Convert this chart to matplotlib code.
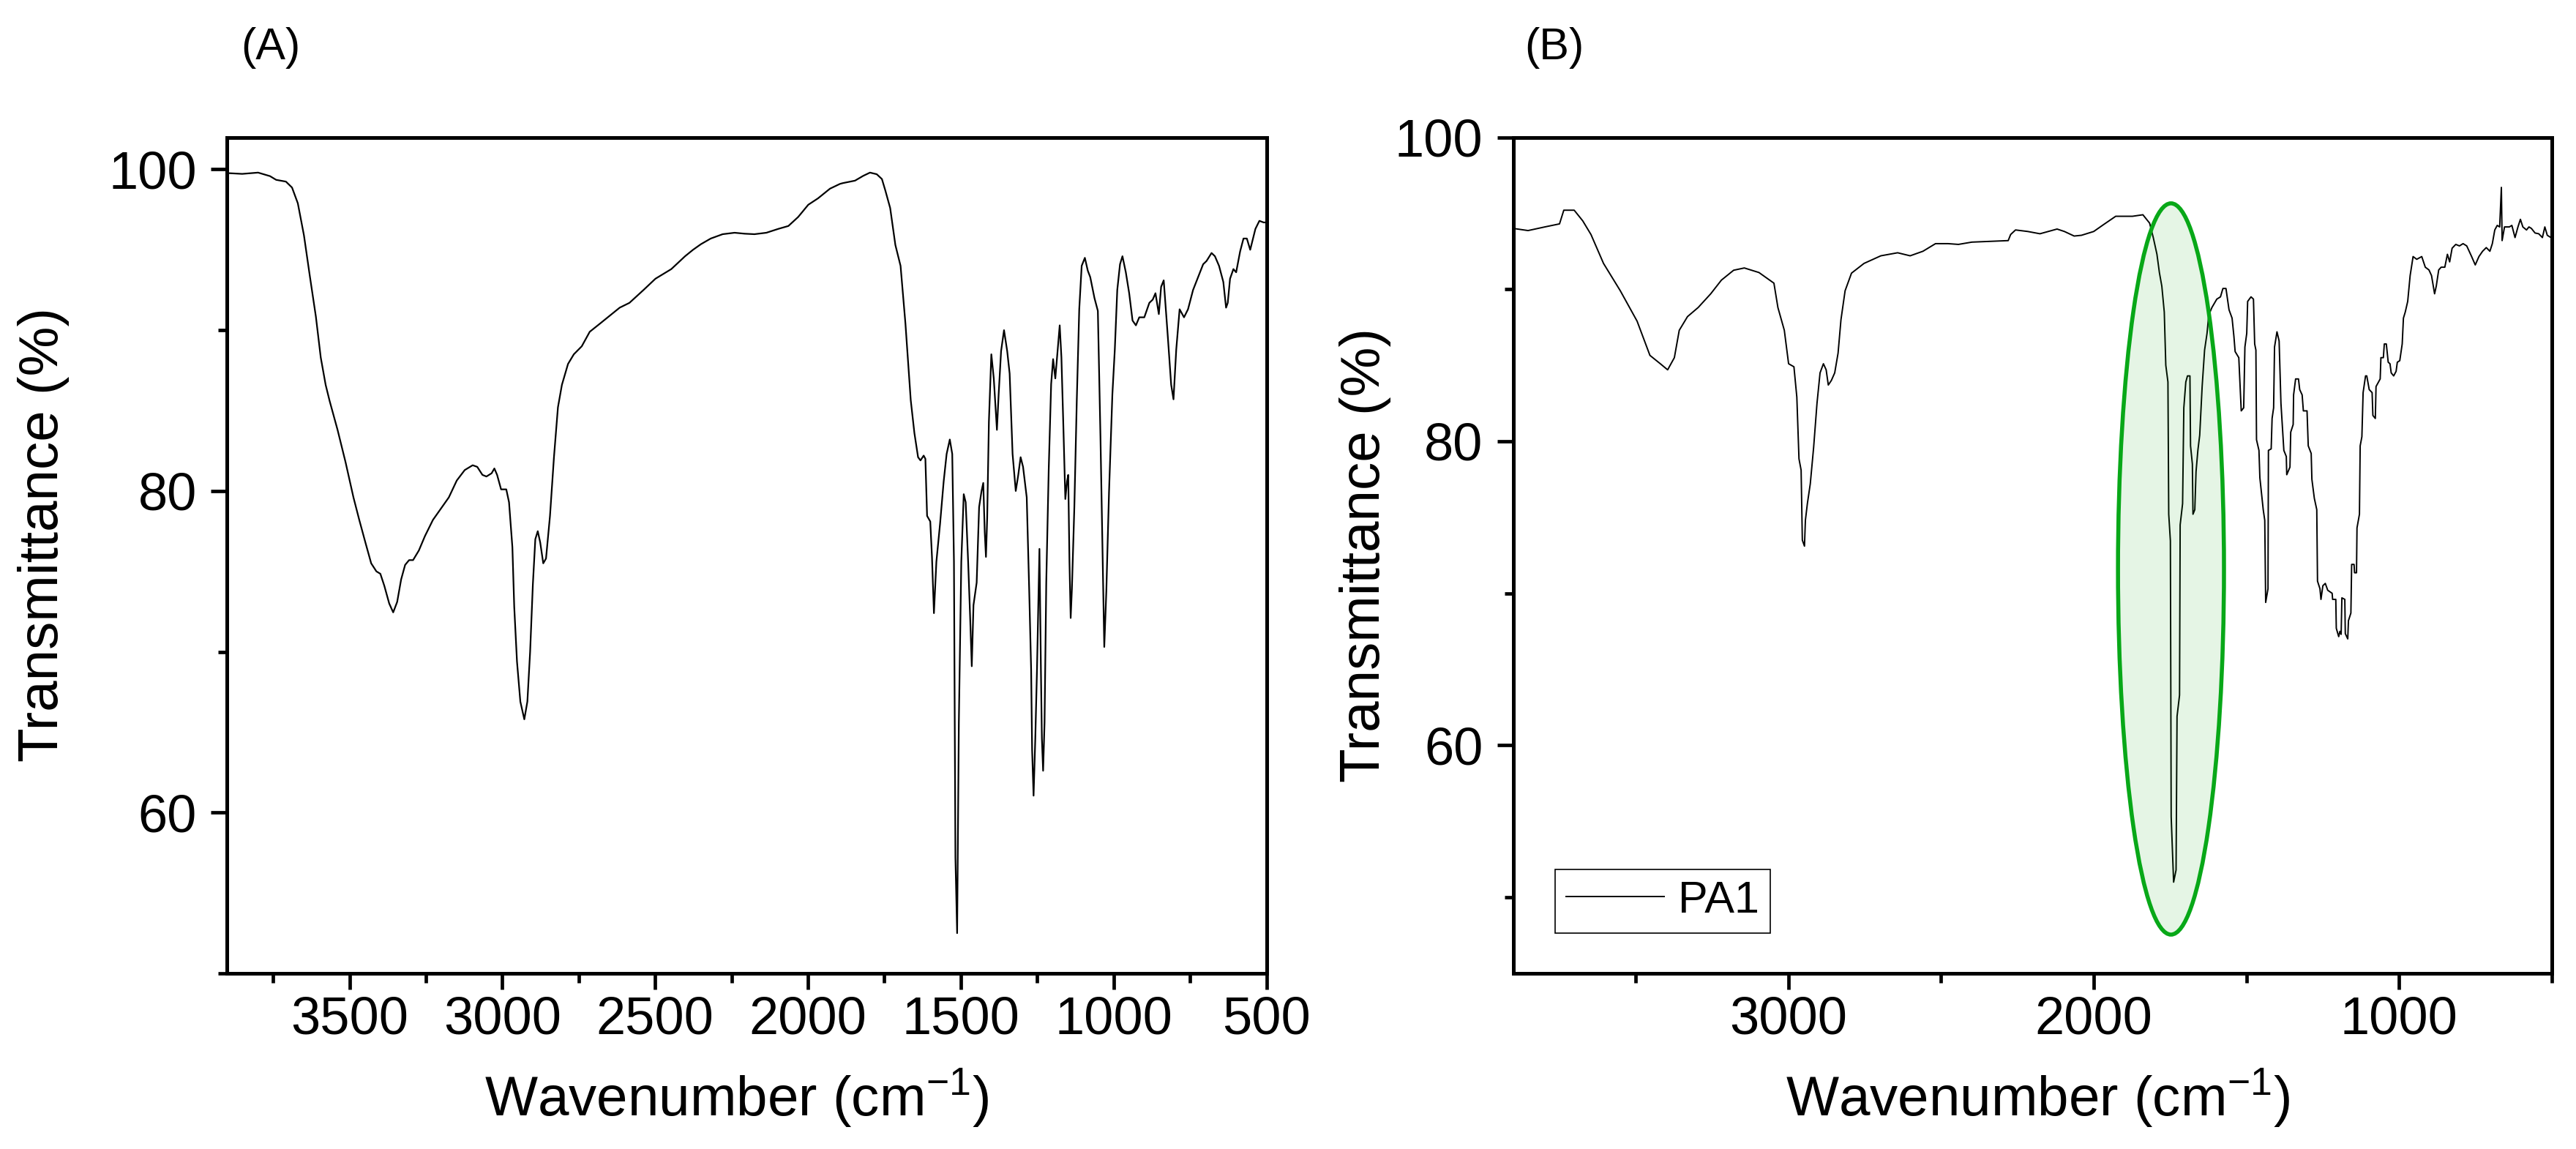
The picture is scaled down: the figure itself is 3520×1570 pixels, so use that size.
import matplotlib
matplotlib.use("Agg")
import matplotlib.pyplot as plt
from matplotlib.patches import Ellipse
from matplotlib.ticker import MultipleLocator

plt.rcParams['font.family'] = ['Liberation Sans', 'DejaVu Sans']
plt.rcParams['mathtext.fontset'] = 'custom'
plt.rcParams['mathtext.rm'] = 'Liberation Sans'
plt.rcParams['mathtext.it'] = 'Liberation Sans:italic'
plt.rcParams['mathtext.bf'] = 'Liberation Sans:bold'

# ---------------- Panel A spectrum ----------------
wn_a = [3900, 3851, 3799, 3760, 3740, 3708, 3688, 3669, 3649, 3630, 3610, 3594, 3578, 3565,
        3539, 3513, 3487, 3468, 3448, 3429, 3412, 3399, 3386, 3370, 3357, 3344, 3331, 3318,
        3305, 3292, 3273, 3253, 3227, 3201, 3175, 3149, 3123, 3097, 3082, 3065, 3052, 3035,
        3026, 3017, 3004, 2987, 2978, 2967, 2961, 2952, 2941, 2928, 2918, 2909, 2900, 2892,
        2884, 2876, 2866, 2857, 2844, 2831, 2818, 2805, 2785, 2766, 2740, 2714, 2681, 2642,
        2616, 2584, 2538, 2499, 2447, 2402, 2376, 2350, 2318, 2279, 2240, 2207, 2175, 2136,
        2097, 2064, 2032, 1999, 1967, 1928, 1895, 1885, 1846, 1819, 1797, 1775, 1758, 1747,
        1731, 1714, 1697, 1681,
        1663.7, 1651.7, 1639.7, 1631.8, 1621.4, 1615.8, 1610.2, 1599.8, 1594.2, 1587.8,
        1579.8, 1567.8, 1555.9, 1546.3, 1535.9, 1527.9, 1522.3, 1517.5, 1511.9, 1506.3,
        1498.3, 1490.3, 1483.9, 1475.9, 1469.6, 1464.0, 1458.4, 1448.0, 1440.0, 1432.0,
        1426.4, 1421.6, 1417.6, 1413.6, 1408.0, 1400.0, 1392.0, 1381.7, 1376.1, 1368.1,
        1358.5, 1348.1, 1340.1, 1330.5, 1320.1, 1312.1, 1304.2, 1296.2, 1284.2, 1276.2,
        1269.8, 1266.6, 1261.8, 1256.2, 1250.6, 1242.6, 1237.8, 1234.6, 1230.6, 1225.9,
        1220.3, 1212.3, 1204.3, 1197.9, 1190.7, 1181.9, 1176.3, 1170.7, 1164.3, 1157.9,
        1152.3, 1148.4, 1144.4, 1140.4, 1136.4, 1128.4, 1120.4, 1112.4, 1104.4, 1094.0,
        1084.4, 1076.4,
        1062.6, 1051.5, 1043, 1037, 1030.5, 1023.7, 1015, 1004, 996, 988, 979, 971, 960, 949,
        938, 927, 916, 899.5, 883, 872, 863, 852, 844.5, 836, 822.6, 811.6, 804, 795, 784,
        769.6, 756.5, 740, 723.6, 707, 696, 679.5, 668.5, 655, 641, 632, 626.5, 619, 608,
        599, 586, 575, 564, 553, 536, 523, 509, 500]
t_a = [99.77, 99.72, 99.8, 99.58, 99.35, 99.24, 98.87, 97.89, 95.9, 93.4, 90.85, 88.3, 86.6, 85.6,
       83.8, 81.8, 79.6, 78.2, 76.8, 75.5, 75.0, 74.85, 74.1, 73.0, 72.45, 73.1, 74.5, 75.4,
       75.7, 75.7, 76.3, 77.2, 78.2, 78.9, 79.6, 80.65, 81.3, 81.6, 81.5, 81.0, 80.9, 81.1,
       81.4, 81.0, 80.1, 80.1, 79.3, 76.5, 72.8, 69.4, 66.9, 65.8, 66.9, 70.0, 74.2, 77.0,
       77.5, 76.8, 75.5, 75.8, 78.45, 82.1, 85.2, 86.6, 87.9, 88.5, 89.0, 89.9, 90.4, 91.0,
       91.4, 91.7, 92.5, 93.2, 93.8, 94.6, 95.0, 95.35, 95.7, 95.97, 96.06, 96.0, 95.97, 96.06,
       96.3, 96.48, 97.04, 97.8, 98.2, 98.8, 99.1, 99.15, 99.3, 99.6, 99.8, 99.7, 99.4, 98.7,
       97.6, 95.3, 94.0, 90.4,
       85.65, 83.6, 82.1, 81.9, 82.2, 82.0, 78.45, 78.1, 75.9, 72.4,
       75.6, 77.95, 80.6, 82.3, 83.2, 82.3, 75.6, 57.2, 52.5, 65.6,
       75.6, 79.8, 79.3, 75.6, 72.3, 69.1, 72.9, 74.3, 79.0, 80.0,
       80.5, 77.45, 75.9, 78.3, 84.3, 88.5, 87.0, 83.8, 86.0, 88.7,
       90.0, 88.7, 87.3, 82.3, 80.0, 80.97, 82.1, 81.5, 79.6, 73.9,
       68.9, 63.9, 61.05, 64.6, 68.9, 76.4, 68.9, 64.6, 62.6, 65.6,
       74.3, 81.3, 86.65, 88.2, 87.0, 89.0, 90.3, 88.3, 84.0, 79.5,
       80.6, 81.0, 75.6, 72.1, 73.9, 79.0, 85.65, 91.3, 94.0, 94.5,
       93.7, 93.3,
       92.0, 91.2, 83.4, 77.0, 70.3, 73.8, 79.9, 86.0, 88.8, 92.5, 94.1, 94.6, 93.6, 92.3,
       90.6, 90.3, 90.8, 90.8, 91.7, 91.9, 92.3, 91.0, 92.7, 93.1, 89.6, 86.6, 85.7, 88.8, 91.3,
       90.8, 91.3, 92.5, 93.3, 94.1, 94.3, 94.8, 94.6, 94.0, 93.0, 91.4, 91.7, 93.2, 93.8,
       93.6, 94.9, 95.7, 95.7, 95.0, 96.3, 96.8, 96.7, 96.7]

# ---------------- Panel B spectrum (PA1) ----------------
wn_b = [3900, 3852, 3797, 3749, 3735, 3701, 3673, 3646, 3605, 3550, 3495, 3453, 3419, 3395,
        3373, 3357, 3330, 3295, 3254, 3219, 3179, 3144, 3096, 3047, 3034, 3013, 2999, 2981.5,
        2972, 2965, 2958, 2954, 2947, 2944, 2937.5, 2928, 2917, 2906, 2896, 2885, 2876, 2869,
        2859, 2848, 2837, 2827.5, 2814, 2793, 2752, 2697, 2642, 2601, 2559, 2518, 2477, 2443,
        2399, 2280, 2272, 2256, 2216, 2176, 2120, 2096, 2064, 2040, 2000, 1968, 1928, 1873,
        1839, 1817, 1805, 1793, 1785, 1777, 1769, 1764, 1757, 1754.4, 1749, 1746.4, 1738.4,
        1730.4, 1727.2, 1719, 1717, 1709, 1705, 1698.5, 1693, 1685, 1683, 1677, 1675, 1669,
        1665, 1659, 1653, 1645, 1637, 1629, 1623.4, 1613, 1597, 1585, 1577, 1567, 1557, 1547,
        1541, 1537, 1525, 1517, 1509, 1505, 1499, 1496, 1485, 1477, 1473, 1469, 1467, 1459,
        1456, 1445, 1440, 1437, 1429.4, 1428, 1419, 1416, 1411, 1408, 1400, 1393, 1387,
        1377.5, 1369.5, 1368, 1357.5, 1355, 1347, 1345.6, 1339, 1329.6, 1325.6, 1317.6,
        1313.6, 1301.6, 1297.6, 1288, 1285.7, 1277.7, 1269.7, 1267.3, 1259.3, 1256, 1249.7,
        1241.8, 1233.8, 1219.4, 1217.8, 1207.4, 1205.8, 1197.9, 1193.9, 1189.9, 1187.5,
        1177.9, 1176.3, 1168.3, 1166, 1158, 1155.5, 1147.6, 1146, 1139.6, 1138, 1130, 1127.6,
        1122, 1118, 1110, 1106, 1098, 1088.5, 1086, 1078, 1075.7, 1067.7, 1062.1, 1059.7,
        1051.7, 1048.6, 1042, 1035.8, 1030, 1026, 1018, 1010, 1006, 998, 990, 986, 980, 972,
        964, 954.4, 942.4, 926, 914.4, 902.4, 894, 884, 878.5, 870.5, 862.5, 850.5, 842,
        834.6, 826.6, 814.6, 802.6, 790.7, 778.7, 762.7, 750.8, 738.8, 726.8, 714.8, 702.9,
        694.9, 686.9, 678.9, 670.9, 665.3, 662.9, 655, 639, 631, 620.6, 611, 603, 595, 583,
        575, 567, 555, 543, 531, 523, 515, 503]
t_b = [94.0, 93.86, 94.1, 94.3, 95.2, 95.2, 94.5, 93.6, 91.7, 89.9, 87.9, 85.65, 85.1, 84.7,
       85.5, 87.3, 88.2, 88.8, 89.7, 90.6, 91.25, 91.4, 91.1, 90.4, 88.8, 87.3, 85.1, 84.9,
       82.9, 78.85, 78.1, 73.5, 73.1, 74.8, 75.9, 77.2, 79.6, 82.5, 84.5, 85.1, 84.7, 83.7,
       84.0, 84.5, 85.8, 88.0, 89.9, 91.06, 91.7, 92.2, 92.4, 92.2, 92.5, 93.0, 93.0, 92.95,
       93.1, 93.2, 93.6, 93.9, 93.8, 93.65, 93.96, 93.8, 93.5, 93.55, 93.8, 94.25, 94.8, 94.8,
       94.9, 94.35, 93.4, 92.3, 91.1, 90.2, 88.5, 85.0, 83.9, 75.2, 73.45, 55.3, 51.0,
       51.8, 61.9, 63.3, 74.5, 75.9, 82.2, 83.9, 84.3, 84.3, 79.7, 78.5, 75.2, 75.5,
       78.0, 79.4, 80.4, 83.6, 86.0, 87.1, 88.3, 88.8, 89.35, 89.5, 90.05, 90.05, 88.65, 88.1,
       86.9, 85.9, 85.5, 82.0, 82.2, 86.2, 87.1, 89.2, 89.5, 89.35, 86.4, 86.0, 80.1, 79.4,
       77.6, 75.5, 74.8, 69.4, 70.3, 79.4, 79.5, 81.5, 82.2, 86.2, 87.2, 86.6, 82.5,
       79.4, 79.0, 77.8, 78.3, 80.6, 81.1, 83.05, 84.1, 84.1, 83.4, 83.05,
       82.0, 82.0, 79.7, 79.2, 77.5, 76.25, 75.5, 70.8, 70.3, 69.6, 70.5,
       70.65, 70.2, 70.0, 69.6, 69.6, 67.7, 67.15, 67.5, 67.3, 69.7,
       69.6, 67.35, 67.0, 68.2, 68.7, 71.9, 71.9, 71.35, 71.35, 74.3, 75.2, 79.7,
       80.3, 83.2, 84.3, 84.3, 83.4, 83.2, 81.7, 81.5, 83.6, 83.9, 84.1, 85.5,
       85.5, 86.4, 86.4, 85.2, 85.1, 84.5, 84.3, 84.6, 85.2, 85.3, 86.4, 88.1, 88.5, 89.2,
       90.9, 92.15, 91.97, 92.15, 91.45, 91.27, 90.9, 89.7, 90.2, 91.27, 91.45, 91.45, 92.3,
       91.8, 92.7, 92.95, 92.85, 93.0, 92.85, 92.15, 91.6, 92.15, 92.5, 92.74, 92.5,
       93.0, 93.9, 94.2, 94.1, 96.7, 93.2, 94.1, 94.1, 94.2, 93.4, 94.1, 94.6, 94.1, 93.9,
       94.1, 94.0, 93.7, 93.65, 93.4, 94.1, 93.55, 93.4]

series_label_b = 'PA1'
panel_labels = ['(A)', '(B)']
x_major_a = [3500, 3000, 2500, 2000, 1500, 1000, 500]
x_major_b = [3000, 2000, 1000]
y_major_a = [60, 80, 100]
y_major_b = [60, 80, 100]
highlight_center = (1747, 71.6)   # ellipse around C=O band (wavenumber, %T)
highlight_size = (347, 48.1)

xlabel = r'Wavenumber (cm$^{\mathregular{-1}}$)'
ylabel = 'Transmittance (%)'

fig = plt.figure(figsize=(17.6, 7.85), dpi=200)
axA = fig.add_axes([0.08821, 0.15287, 0.40341, 0.72770])
axB = fig.add_axes([0.58750, 0.15287, 0.40313, 0.72770])

axA.plot(wn_a, t_a, color='black', lw=0.8)
lineB, = axB.plot(wn_b, t_b, color='black', lw=0.7, label=series_label_b)

ell = Ellipse(highlight_center, highlight_size[0], highlight_size[1],
              facecolor=(0.0, 0.65, 0.0, 0.10), edgecolor='#08a818', lw=2.0, zorder=3)
axB.add_patch(ell)

axA.set_xlim(3900, 500)
axA.set_ylim(50, 102)
axB.set_xlim(3900, 500)
axB.set_ylim(45, 100)

axA.set_xticks(x_major_a)
axA.xaxis.set_minor_locator(MultipleLocator(250))
axA.set_yticks(y_major_a)
axA.yaxis.set_minor_locator(MultipleLocator(10))
axB.set_xticks(x_major_b)
axB.xaxis.set_minor_locator(MultipleLocator(500))
axB.set_yticks(y_major_b)
axB.yaxis.set_minor_locator(MultipleLocator(10))

for ax in (axA, axB):
    for sp in ax.spines.values():
        sp.set_linewidth(1.8)
    ax.tick_params(axis='both', which='major', direction='out', length=8, width=1.7,
                   labelsize=26)
    ax.tick_params(axis='both', which='minor', direction='out', length=4.5, width=1.7)
    ax.tick_params(axis='x', which='major', pad=3)
    ax.tick_params(axis='y', which='major', pad=7)
    ax.set_xlabel(xlabel, fontsize=27.5)
    ax.set_ylabel(ylabel, fontsize=27.5)

axA.xaxis.set_label_coords(0.49, -0.112)
axB.xaxis.set_label_coords(0.505, -0.112)
axA.yaxis.set_label_coords(-0.152, 0.525)
axB.yaxis.set_label_coords(-0.118, 0.50)

leg = axB.legend(handles=[lineB], loc='lower left', bbox_to_anchor=(0.040, 0.048),
                 fontsize=22, frameon=True, fancybox=False, edgecolor='black',
                 framealpha=1, borderpad=0.25, handlelength=2.2, handletextpad=0.3,
                 borderaxespad=0)
leg.get_frame().set_linewidth(0.6)
for h in leg.get_lines():
    h.set_linewidth(0.7)

fig.text(370 / 3520, 1 - 65 / 1570, panel_labels[0], fontsize=22, ha='center', va='center')
fig.text(2124 / 3520, 1 - 65 / 1570, panel_labels[1], fontsize=22, ha='center', va='center')

fig.savefig('out.png', dpi=200, facecolor='white')
